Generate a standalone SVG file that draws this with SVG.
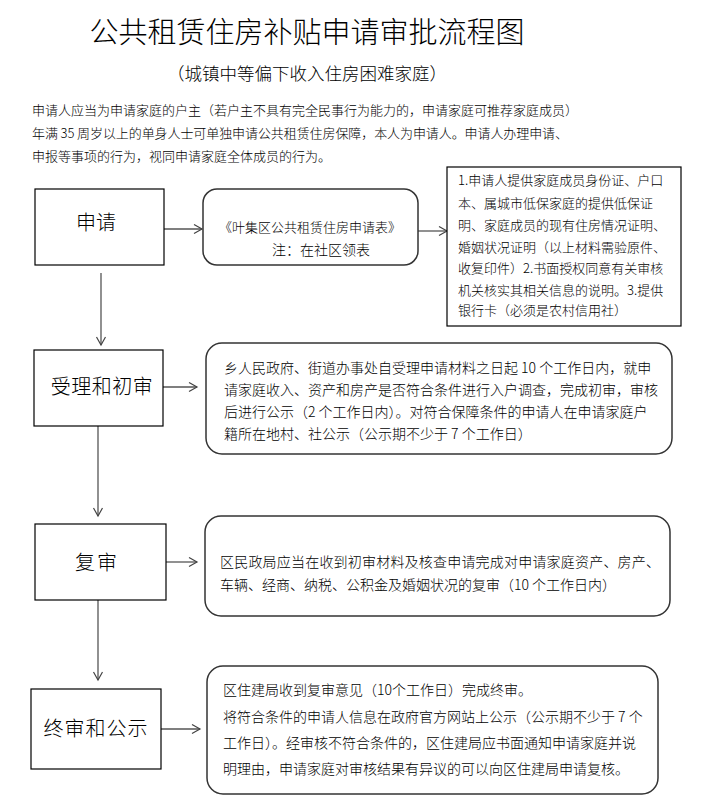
<svg xmlns="http://www.w3.org/2000/svg" width="702" height="803" viewBox="0 0 702 803">
<defs>
<marker id="ah" markerUnits="userSpaceOnUse" markerWidth="12" markerHeight="12" refX="9" refY="5" orient="auto">
<path d="M1,0.5 L9,5 L1,9.5" fill="none" stroke="#444" stroke-width="1.2"/>
</marker>
</defs>
<style>
text{font-family:"Noto Sans CJK SC","Noto Sans",sans-serif;fill:#000;font-weight:300}
.t{font-size:29px}
.st{font-size:17.5px}
.p{font-size:13px}
.n{font-size:20px}
.b{font-size:14px}
.s{font-size:13px}
.box{fill:#fff;stroke:#000;stroke-width:1.2}
.rbox{fill:#fff;stroke:#333;stroke-width:1.5}
.c{fill:none;stroke:#555;stroke-width:1.3;marker-end:url(#ah)}
</style>
<rect width="702" height="803" fill="#fff"/>
<text class="t" x="307" y="43" text-anchor="middle">公共租赁住房补贴申请审批流程图</text>
<text class="st" x="307" y="80" text-anchor="middle">（城镇中等偏下收入住房困难家庭）</text>
<text class="p" x="32" y="115">申请人应当为申请家庭的户主（若户主不具有完全民事行为能力的，申请家庭可推荐家庭成员）</text>
<text class="p" x="32" y="138" textLength="536" lengthAdjust="spacing">年满 35 周岁以上的单身人士可单独申请公共租赁住房保障，本人为申请人。申请人办理申请、</text>
<text class="p" x="32" y="161">申报等事项的行为，视同申请家庭全体成员的行为。</text>

<g id="connectors">
<line class="c" x1="164" y1="229" x2="202" y2="229"/>
<line class="c" x1="418" y1="231" x2="447" y2="231"/>
<line class="c" x1="101" y1="273" x2="101" y2="345"/>
<line class="c" x1="163" y1="387" x2="197" y2="387"/>
<line class="c" x1="98" y1="426" x2="98" y2="516"/>
<line class="c" x1="166" y1="562" x2="197" y2="562"/>
<line class="c" x1="98" y1="600" x2="98" y2="680"/>
<line class="c" x1="161" y1="729" x2="200" y2="729"/>
</g>

<g id="n-apply">
<rect class="box" x="35" y="189" width="129" height="76"/>
<text class="n" x="96" y="230" text-anchor="middle">申请</text>
</g>
<g id="n-form">
<rect class="rbox" x="203" y="189" width="215" height="76" rx="14"/>
<text class="s" x="310" y="232" text-anchor="middle">《叶集区公共租赁住房申请表》</text>
<text class="b" x="321" y="255" text-anchor="middle">注：在社区领表</text>
</g>
<g id="n-materials">
<rect class="box" x="447" y="167" width="234" height="159"/>
<text class="s" x="458" y="185">1.申请人提供家庭成员身份证、户口</text>
<text class="s" x="458" y="208">本、属城市低保家庭的提供低保证</text>
<text class="s" x="458" y="230">明、家庭成员的现有住房情况证明、</text>
<text class="s" x="458" y="252">婚姻状况证明（以上材料需验原件、</text>
<text class="s" x="458" y="273">收复印件）2.书面授权同意有关审核</text>
<text class="s" x="458" y="295">机关核实其相关信息的说明。3.提供</text>
<text class="s" x="458" y="315">银行卡（必须是农村信用社）</text>
</g>
<g id="n-accept">
<rect class="box" x="34" y="350" width="129" height="76"/>
<text class="n" x="102" y="394" text-anchor="middle" letter-spacing="0.5">受理和初审</text>
</g>
<g id="n-accept-desc">
<rect class="rbox" x="206" y="343" width="466" height="111" rx="16"/>
<text class="b" x="224" y="373">乡人民政府、街道办事处自受理申请材料之日起 10 个工作日内，就申</text>
<text class="b" x="224" y="395">请家庭收入、资产和房产是否符合条件进行入户调查，完成初审，审核</text>
<text class="b" x="224" y="417">后进行公示（2 个工作日内）。对符合保障条件的申请人在申请家庭户</text>
<text class="b" x="224" y="439">籍所在地村、社公示（公示期不少于 7 个工作日）</text>
</g>
<g id="n-review">
<rect class="box" x="35" y="524" width="131" height="76"/>
<text class="n" x="97" y="570" text-anchor="middle" letter-spacing="2">复审</text>
</g>
<g id="n-review-desc">
<rect class="rbox" x="205" y="516" width="465" height="100" rx="16"/>
<text class="b" x="220" y="567" textLength="440" lengthAdjust="spacing">区民政局应当在收到初审材料及核查申请完成对申请家庭资产、房产、</text>
<text class="b" x="220" y="590">车辆、经商、纳税、公积金及婚姻状况的复审（10 个工作日内）</text>
</g>
<g id="n-final">
<rect class="box" x="31" y="689" width="130" height="80"/>
<text class="n" x="96" y="736" text-anchor="middle" letter-spacing="1">终审和公示</text>
</g>
<g id="n-final-desc">
<rect class="rbox" x="207" y="666" width="451" height="128" rx="16"/>
<text class="b" x="223" y="695">区住建局收到复审意见（10个工作日）完成终审。</text>
<text class="b" x="223" y="722">将符合条件的申请人信息在政府官方网站上公示（公示期不少于 7 个</text>
<text class="b" x="223" y="748">工作日）。经审核不符合条件的，区住建局应书面通知申请家庭并说</text>
<text class="b" x="223" y="774">明理由，申请家庭对审核结果有异议的可以向区住建局申请复核。</text>
</g>
</svg>
